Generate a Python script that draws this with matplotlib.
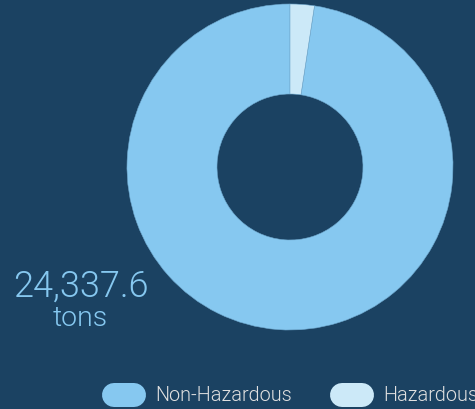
import matplotlib
matplotlib.use("Agg")
import matplotlib.pyplot as plt
from matplotlib import font_manager as fm

categories = ["Non-Hazardous", "Hazardous"]
values = [23753.2, 584.4]
total_label = "24,337.6"
unit_label = "tons"

BG = "#1b4262"
COLORS = ["#86c8f0", "#cce9f8"]


def roboto_light():
    cands = [f for f in fm.fontManager.ttflist
             if f.name == "Roboto" and f.style == "normal"]
    for f in cands:
        if "light" in f.fname.lower() and "italic" not in f.fname.lower() and "condensed" not in f.fname.lower():
            return fm.FontProperties(fname=f.fname)
    for f in cands:
        if f.weight == 300:
            return fm.FontProperties(fname=f.fname)
    return fm.FontProperties(family="Roboto", weight="normal")


LIGHT = roboto_light()

W, H = 475, 410
fig = plt.figure(figsize=(W / 100, H / 100), dpi=100, facecolor=BG)

cx, cy, R = 290, 168, 163
ax = fig.add_axes([(cx - R) / W, (H - cy - R) / H, 2 * R / W, 2 * R / H])
ax.set_facecolor(BG)
ax.pie(values, colors=COLORS, startangle=90, counterclock=True, radius=1,
       wedgeprops=dict(width=1 - 73 / 163, edgecolor="#6fa9cf", linewidth=0.4))
ax.set_xlim(-1, 1)
ax.set_ylim(-1, 1)
ax.set_aspect("equal")
ax.axis("off")

fig.text(81 / W, 1 - 287 / H, total_label, color="#86c8f0", fontproperties=LIGHT,
         fontsize=26, ha="center", va="center")
fig.text(80 / W, 1 - 318 / H, unit_label, color="#86c8f0", fontproperties=LIGHT,
         fontsize=20.5, ha="center", va="center")

# legend
leg_marker_x = [102, 330]
for i, (cat, col) in enumerate(zip(categories, COLORS)):
    x0 = leg_marker_x[i]
    fig.add_artist(plt.Line2D([(x0 + 12) / W, (x0 + 32) / W], [1 - 396 / H, 1 - 396 / H],
                              transform=fig.transFigure, color=col, linewidth=24 * 0.72,
                              solid_capstyle="round"))
    fig.text((x0 + 53) / W, 1 - 396 / H, cat, color="#e0e0e0", fontproperties=LIGHT,
             fontsize=14.3, ha="left", va="center")

fig.savefig("out.png", dpi=100, facecolor=BG)
